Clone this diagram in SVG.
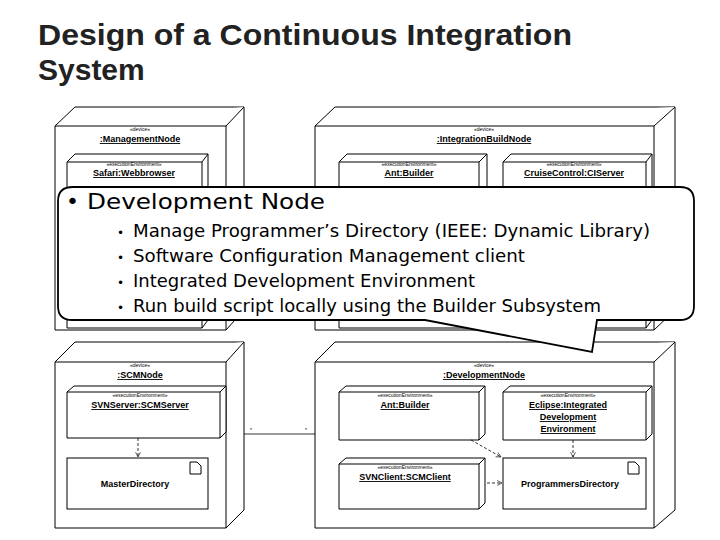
<svg xmlns="http://www.w3.org/2000/svg" width="720" height="540" viewBox="0 0 720 540">
<defs>
<style>
.n{fill:#fff;stroke:#000;stroke-width:1}
.st{font-family:"Liberation Sans",Arial,sans-serif;font-size:5px;text-anchor:middle}
.nm{font-family:"Liberation Sans",Arial,sans-serif;font-size:9px;font-weight:bold;text-anchor:middle;text-decoration:underline}
.art{font-family:"Liberation Sans",Arial,sans-serif;font-size:9px;font-weight:bold;text-anchor:middle}
.d{fill:none;stroke:#000;stroke-width:0.8;stroke-dasharray:3,2}
.t{font-family:"DejaVu Sans",Verdana,sans-serif;font-size:17px}
</style>
<marker id="a" markerWidth="8" markerHeight="8" refX="7" refY="4" orient="auto"><path d="M1,1 L7,4 L1,7" fill="none" stroke="#000" stroke-width="0.8"/></marker>
</defs>
<rect width="720" height="540" fill="#fff"/>
<text x="38" y="45" font-family="Liberation Sans,Arial,sans-serif" font-size="30" font-weight="bold" fill="#222" textLength="534" lengthAdjust="spacingAndGlyphs">Design of a Continuous Integration</text>
<text x="38" y="80" font-family="Liberation Sans,Arial,sans-serif" font-size="30" font-weight="bold" fill="#222">System</text>

<g id="managementNode">
<path class="n" d="M55,126 L75,107 L244,107 L244,310 L226,330 L55,330 Z"/>
<path class="n" d="M55,126 L226,126 L244,107 M226,126 L226,330"/>
<text class="st" x="140" y="131">«device»</text><text class="nm" x="140" y="142">:ManagementNode</text>
<g id="safari"><path class="n" d="M67,162 L75,154 L208,154 L208,320 L202,328 L67,328 Z M67,162 L202,162 L208,154 M202,162 L202,328"/>
<text class="st" x="134" y="166">«executionEnvironment»</text><text class="nm" x="134" y="176">Safari:Webbrowser</text></g>
</g>

<g id="integrationBuildNode">
<path class="n" d="M315,126 L335,107 L675,107 L675,310 L654,330 L315,330 Z"/>
<path class="n" d="M315,126 L654,126 L675,107 M654,126 L654,330"/>
<text class="st" x="484" y="131">«device»</text><text class="nm" x="484" y="142">:IntegrationBuildNode</text>
<g id="antBuilderTop"><path class="n" d="M339,162 L347,154 L487,154 L487,320 L479,328 L339,328 Z M339,162 L479,162 L487,154 M479,162 L479,328"/>
<text class="st" x="409" y="166">«executionEnvironment»</text><text class="nm" x="409" y="176">Ant:Builder</text></g>
<g id="cruiseControl"><path class="n" d="M503,162 L511,154 L652,154 L652,320 L646,328 L503,328 Z M503,162 L646,162 L652,154 M646,162 L646,328"/>
<text class="st" x="574" y="166">«executionEnvironment»</text><text class="nm" x="574" y="176">CruiseControl:CIServer</text></g>
</g>

<g id="scmNode">
<path class="n" d="M55,362 L75,342 L244,342 L244,510 L226,528 L55,528 Z"/>
<path class="n" d="M55,362 L226,362 L244,342 M226,362 L226,528"/>
<text class="st" x="140" y="367">«device»</text><text class="nm" x="140" y="378">:SCMNode</text>
<g id="svnServer"><path class="n" d="M67,392 L74,386 L226,386 L226,432 L220,438 L67,438 Z M67,392 L220,392 L226,386 M220,392 L220,438"/>
<text class="st" x="140" y="397">«executionEnvironment»</text><text class="nm" x="140" y="408">SVNServer:SCMServer</text></g>
<g id="masterDirectory"><rect class="n" x="67" y="458" width="141" height="51"/>
<path class="n" d="M190,462 L197,462 L201,466 L201,474 L190,474 Z" stroke-width="0.8"/>
<text class="art" x="135" y="487">MasterDirectory</text></g>
</g>

<g id="developmentNode">
<path class="n" d="M315,362 L335,342 L675,342 L675,510 L654,528 L315,528 Z"/>
<path class="n" d="M315,362 L654,362 L675,342 M654,362 L654,528"/>
<text class="st" x="484" y="367">«device»</text><text class="nm" x="484" y="378">:DevelopmentNode</text>
<g id="antBuilder"><path class="n" d="M339,392 L346,386 L485,386 L485,434 L479,440 L339,440 Z M339,392 L479,392 L485,386 M479,392 L479,440"/>
<text class="st" x="405" y="397">«executionEnvironment»</text><text class="nm" x="405" y="408">Ant:Builder</text></g>
<g id="eclipse"><path class="n" d="M503,392 L510,386 L652,386 L652,434 L646,440 L503,440 Z M503,392 L646,392 L652,386 M646,392 L646,440"/>
<text class="st" x="568" y="397">«executionEnvironment»</text><text class="nm" x="568" y="408">Eclipse:Integrated</text><text class="nm" x="568" y="420">Development</text><text class="nm" x="568" y="432">Environment</text></g>
<g id="svnClient"><path class="n" d="M339,464 L346,458 L485,458 L485,503 L479,509 L339,509 Z M339,464 L479,464 L485,458 M479,464 L479,509"/>
<text class="st" x="405" y="469">«executionEnvironment»</text><text class="nm" x="405" y="480">SVNClient:SCMClient</text></g>
<g id="programmersDirectory"><rect class="n" x="503" y="458" width="143" height="51"/>
<path class="n" d="M628,462 L635,462 L639,466 L639,474 L628,474 Z" stroke-width="0.8"/>
<text class="art" x="570" y="487">ProgrammersDirectory</text></g>
</g>

<g id="connectors">
<path class="d" d="M138,438 L138,457" marker-end="url(#a)"/>
<path class="d" d="M471,440 L501,457" marker-end="url(#a)"/>
<path class="d" d="M573,440 L573,457" marker-end="url(#a)"/>
<path class="d" d="M487,483 L502,483" marker-end="url(#a)"/>
<path d="M244,434 L315,434" stroke="#000" stroke-width="0.8"/>
<text x="250" y="432" font-family="Liberation Sans,sans-serif" font-size="5">*</text>
<text x="305" y="432" font-family="Liberation Sans,sans-serif" font-size="5">*</text>
</g>

<g id="callout">
<path d="M73,187 L680,187 Q694,187 694,201 L694,306 Q694,320 680,320 L597,320 L592,352 L425,320 L72,320 Q58,320 58,306 L58,201 Q58,187 73,187 Z" fill="#fff" stroke="#000" stroke-width="1.8"/>
<text x="66" y="209" font-family="DejaVu Sans,Verdana,sans-serif" font-size="22">•</text>
<text x="87" y="209" font-family="DejaVu Sans,Verdana,sans-serif" font-size="22" textLength="238" lengthAdjust="spacingAndGlyphs">Development Node</text>
<g class="t">
<text x="117" y="237" font-size="12">•</text><text x="133" y="237" textLength="517" lengthAdjust="spacingAndGlyphs">Manage Programmer’s Directory (IEEE: Dynamic Library)</text>
<text x="117" y="262" font-size="12">•</text><text x="133" y="262" textLength="392" lengthAdjust="spacingAndGlyphs">Software  Configuration Management client</text>
<text x="117" y="287" font-size="12">•</text><text x="133" y="287" textLength="342" lengthAdjust="spacingAndGlyphs">Integrated Development Environment</text>
<text x="117" y="312" font-size="12">•</text><text x="133" y="312" textLength="468" lengthAdjust="spacingAndGlyphs">Run build script locally using the Builder Subsystem</text>
</g>
</g>
</svg>
